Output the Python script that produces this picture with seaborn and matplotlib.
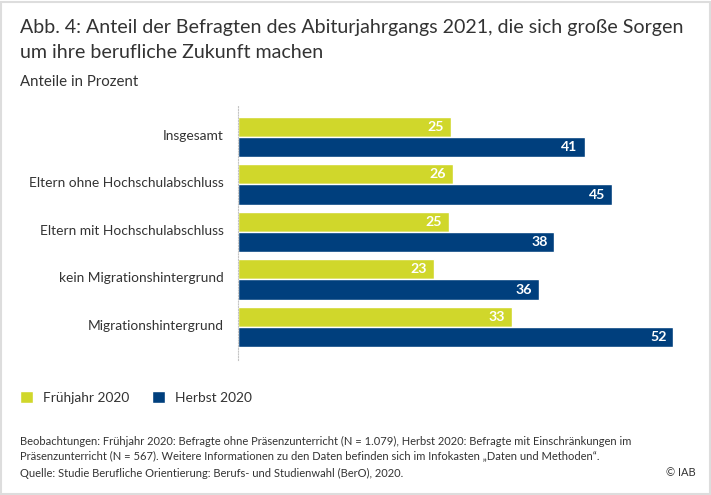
import matplotlib.pyplot as plt
import matplotlib.transforms as mtransforms
import pandas as pd
import seaborn as sns
from matplotlib.patches import Rectangle

categories = ['Insgesamt', 'Eltern ohne Hochschulabschluss', 'Eltern mit Hochschulabschluss',
              'kein Migrationshintergrund', 'Migrationshintergrund']
series_names = ['Frühjahr 2020', 'Herbst 2020']
fruehjahr = [25.4, 25.7, 25.2, 23.4, 32.7]
herbst = [41.4, 44.7, 37.8, 36.0, 52.0]
fruehjahr_labels = ['25', '26', '25', '23', '33']
herbst_labels = ['41', '45', '38', '36', '52']

W, H = 711, 495
TEXT = '#333333'
colors = ['#d0d72b', '#003f7d']

sns.set_theme(style='white')
plt.rcParams['font.family'] = ['Lato', 'DejaVu Sans']

df = pd.DataFrame({
    'gruppe': categories * 2,
    'wert': fruehjahr + herbst,
    'welle': [series_names[0]] * 5 + [series_names[1]] * 5,
})

fig = plt.figure(figsize=(W / 100, H / 100), dpi=100, facecolor='white')
ax = fig.add_axes([237.7 / W, 1 - 360 / H, 452 / W, 255.5 / H])

sns.barplot(data=df, y='gruppe', x='wert', hue='welle', order=categories, hue_order=series_names,
            palette=colors, width=0.85, gap=0, saturation=1, ax=ax)

ax.set_xlim(0, 452 / 8.38)
ax.set_ylim(4.695, -0.684)
ax.set_xlabel('')
ax.set_ylabel('')
ax.set_xticks([])
ax.tick_params(axis='y', length=0, pad=10, labelsize=9.95, labelcolor=TEXT)
sns.despine(ax=ax, top=True, right=True, bottom=True)
ax.spines['left'].set_linestyle((0, (1, 1.5)))
ax.spines['left'].set_color('#c4c4c4')
ax.spines['left'].set_linewidth(0.8)
ax.patch.set_alpha(0)

# the group labels sit a bit above the middle of the bars
shift = mtransforms.ScaledTranslation(0, 1.5 / 72, fig.dpi_scale_trans)
for t in ax.get_yticklabels():
    t.set_transform(t.get_transform() + shift)

for container, labels in zip(ax.containers, [fruehjahr_labels, herbst_labels]):
    texts = ax.bar_label(container, labels=labels, padding=-5, color='white', fontsize=10.2, fontweight='bold')
    for t in texts:
        t.set_ha('right')

handles, names = ax.get_legend_handles_labels()
ax.get_legend().remove()
fig.legend(handles, names, loc='center left', bbox_to_anchor=(20 / W, 1 - 397.5 / H), ncol=2, frameon=False,
           fontsize=9.95, labelcolor=TEXT, handlelength=0.95, handleheight=0.95, handletextpad=0.75,
           columnspacing=1.6, borderpad=0, borderaxespad=0)


def put(x, y, s, size, **kw):
    fig.text(x / W, 1 - y / H, s, fontsize=size, color=kw.pop('color', TEXT), va='center', **kw)


put(20, 28, 'Abb. 4: Anteil der Befragten des Abiturjahrgangs 2021, die sich große Sorgen', 14.12)
put(20, 53, 'um ihre berufliche Zukunft machen', 14.12)
put(20, 82, 'Anteile in Prozent', 10.85)
put(20, 441, 'Beobachtungen: Frühjahr 2020: Befragte ohne Präsenzunterricht (N = 1.079), Herbst 2020: Befragte mit Einschränkungen im', 8.05)
put(20, 456, 'Präsenzunterricht (N = 567). Weitere Informationen zu den Daten befinden sich im Infokasten „Daten und Methoden“.', 8.05)
put(20, 473, 'Quelle: Studie Berufliche Orientierung: Berufs- und Studienwahl (BerO), 2020.', 8.05)
put(696, 473, '© IAB', 8.05, ha='right')

fig.add_artist(Rectangle((1.5 / W, 1.5 / H), (W - 3) / W, (H - 3) / H, transform=fig.transFigure,
                         fill=False, edgecolor='#dddddd', linewidth=1.5))

fig.savefig('out.png', dpi=100)
